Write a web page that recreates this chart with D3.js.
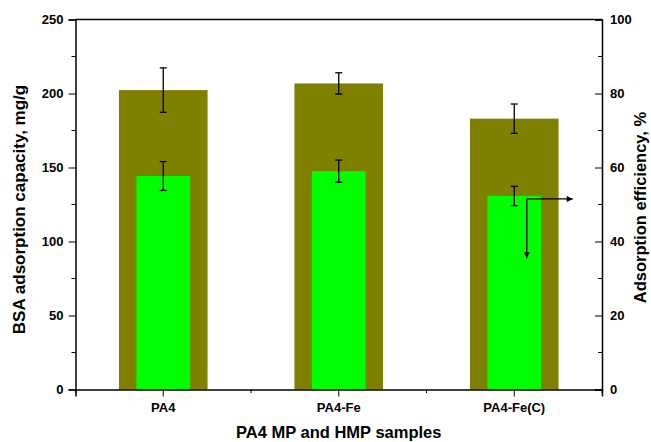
<!DOCTYPE html>
<html>
<head>
<meta charset="utf-8">
<script src="https://cdn.jsdelivr.net/npm/d3@7"></script>
<style>
  body { margin: 0; background: #fff; }
  text { font-family: "Liberation Sans", Arial, sans-serif; font-weight: bold; }
  .tick-label { font-size: 13px; }
  .axis-label { font-size: 16.5px; }
</style>
</head>
<body>
<div id="chart"></div>
<script>
// values
var categories = ["PA4", "PA4-Fe", "PA4-Fe(C)"];
var capacity = [202.3, 206.8, 183.0];        // mg/g, left axis (olive)
var capacityErr = [15.0, 7.2, 9.9];
var efficiency = [57.7, 59.0, 52.3];         // %, right axis (green)
var efficiencyErr = [3.9, 3.0, 2.6];
var leftTicks = [0, 50, 100, 150, 200, 250];
var leftMinor = [25, 75, 125, 175, 225];
var rightTicks = [0, 20, 40, 60, 80, 100];
var rightMinor = [10, 30, 50, 70, 90];

// set the dimensions and margins of the graph
var margin = {top: 19.5, right: 49, bottom: 52.5, left: 75.5},
    width = 651 - margin.left - margin.right,
    height = 442 - margin.top - margin.bottom;

var svg = d3.select("#chart")
  .append("svg")
    .attr("width", 651)
    .attr("height", 442)
  .append("g")
    .attr("transform", "translate(" + margin.left + "," + margin.top + ")");

var x = d3.scaleBand().domain(categories).range([0, width]).padding(0);
var yL = d3.scaleLinear().domain([0, 250]).range([height, 0]);
var yR = d3.scaleLinear().domain([0, 100]).range([height, 0]);

var bw = x.bandwidth();
var outerW = bw * 0.505, innerW = bw * 0.306;
var rows = categories.map(function(c, i) {
  return {cat: c, cap: capacity[i], capErr: capacityErr[i], eff: efficiency[i], effErr: efficiencyErr[i]};
});

// olive bars (capacity)
svg.selectAll(".bar-cap")
  .data(rows).enter().append("rect")
    .attr("x", function(d) { return x(d.cat) + bw / 2 - outerW / 2; })
    .attr("y", function(d) { return yL(d.cap); })
    .attr("width", outerW)
    .attr("height", function(d) { return height - yL(d.cap); })
    .attr("fill", "#808000");

// green bars (efficiency)
svg.selectAll(".bar-eff")
  .data(rows).enter().append("rect")
    .attr("x", function(d) { return x(d.cat) + bw / 2 - innerW / 2; })
    .attr("y", function(d) { return yR(d.eff); })
    .attr("width", innerW)
    .attr("height", function(d) { return height - yR(d.eff); })
    .attr("fill", "#00ff00");

// error bars
function errorBars(accMean, accErr, scale) {
  var g = svg.append("g").attr("stroke", "#000").attr("stroke-width", 1.3).attr("fill", "none");
  rows.forEach(function(d) {
    var cx = x(d.cat) + bw / 2;
    var hi = scale(accMean(d) + accErr(d)), lo = scale(accMean(d) - accErr(d));
    g.append("line").attr("x1", cx).attr("x2", cx).attr("y1", hi).attr("y2", lo);
    g.append("line").attr("x1", cx - 3.5).attr("x2", cx + 3.5).attr("y1", hi).attr("y2", hi);
    g.append("line").attr("x1", cx - 3.5).attr("x2", cx + 3.5).attr("y1", lo).attr("y2", lo);
  });
}
errorBars(function(d) { return d.cap; }, function(d) { return d.capErr; }, yL);
errorBars(function(d) { return d.eff; }, function(d) { return d.effErr; }, yR);

// arrow annotation on the last group
var defs = svg.append("defs");
defs.append("marker")
    .attr("id", "head")
    .attr("viewBox", "0 0 10 10")
    .attr("refX", 10).attr("refY", 5)
    .attr("markerWidth", 8).attr("markerHeight", 6)
    .attr("markerUnits", "userSpaceOnUse")
    .attr("orient", "auto")
  .append("path").attr("d", "M0,0 L10,5 L0,10 z").attr("fill", "#000");

var ax = x("PA4-Fe(C)") + bw / 2 + 12.5;
var ay = yR(51.5);
svg.append("line")
    .attr("x1", ax).attr("y1", ay).attr("x2", ax + 46).attr("y2", ay)
    .attr("stroke", "#000").attr("stroke-width", 1.3).attr("marker-end", "url(#head)");
svg.append("line")
    .attr("x1", ax).attr("y1", ay).attr("x2", ax).attr("y2", yR(35.5))
    .attr("stroke", "#000").attr("stroke-width", 1.3).attr("marker-end", "url(#head)");

// frame lines (top)
svg.append("line")
    .attr("x1", 0).attr("x2", width).attr("y1", 0).attr("y2", 0)
    .attr("stroke", "#000").attr("stroke-width", 1.5);

// Left axis
var gl = svg.append("g")
  .call(d3.axisLeft(yL).tickValues(leftTicks).tickSize(7).tickPadding(5));
gl.selectAll(".tick text").attr("class", "tick-label");
gl.append("g").selectAll("line").data(leftMinor).enter().append("line")
    .attr("x1", -4).attr("x2", 0)
    .attr("y1", function(d) { return yL(d); }).attr("y2", function(d) { return yL(d); })
    .attr("stroke", "#000");

// Right axis (ticks point inward)
var gr = svg.append("g")
  .attr("transform", "translate(" + width + ",0)")
  .call(d3.axisRight(yR).tickValues(rightTicks).tickSize(-7).tickPadding(15));
gr.selectAll(".tick text").attr("class", "tick-label").attr("x", 8);
gr.append("g").selectAll("line").data(rightMinor).enter().append("line")
    .attr("x1", -4).attr("x2", 0)
    .attr("y1", function(d) { return yR(d); }).attr("y2", function(d) { return yR(d); })
    .attr("stroke", "#000");

// Bottom axis
var gb = svg.append("g")
  .attr("transform", "translate(0," + height + ")")
  .call(d3.axisBottom(x).tickSize(7).tickPadding(6));
gb.selectAll(".tick text").attr("class", "tick-label");
var edges = x.domain().map(function(c) { return x(c); }).concat([width]);
gb.append("g").selectAll("line").data(edges).enter().append("line")
    .attr("x1", function(d) { return d; }).attr("x2", function(d) { return d; })
    .attr("y1", 0).attr("y2", 3.5)
    .attr("stroke", "#000");

// axis styling
svg.selectAll(".domain").attr("stroke-width", 1.5);
svg.selectAll(".tick line").attr("stroke-width", 1);
svg.selectAll(".tick text").attr("fill", "#000");

// axis labels
svg.append("text")
    .attr("class", "axis-label")
    .attr("text-anchor", "middle")
    .attr("x", width / 2)
    .attr("y", height + 48)
    .text("PA4 MP and HMP samples");

svg.append("text")
    .attr("class", "axis-label")
    .attr("text-anchor", "middle")
    .style("font-size", "17px")
    .attr("transform", "translate(" + (-margin.left + 25) + "," + (height / 2 + 5) + ") rotate(-90)")
    .text("BSA adsorption capacity, mg/g");

svg.append("text")
    .attr("class", "axis-label")
    .attr("text-anchor", "middle")
    .attr("transform", "translate(" + (width + 44) + "," + (height / 2 + 3) + ") rotate(-90)")
    .text("Adsorption efficiency, %");
</script>
</body>
</html>
